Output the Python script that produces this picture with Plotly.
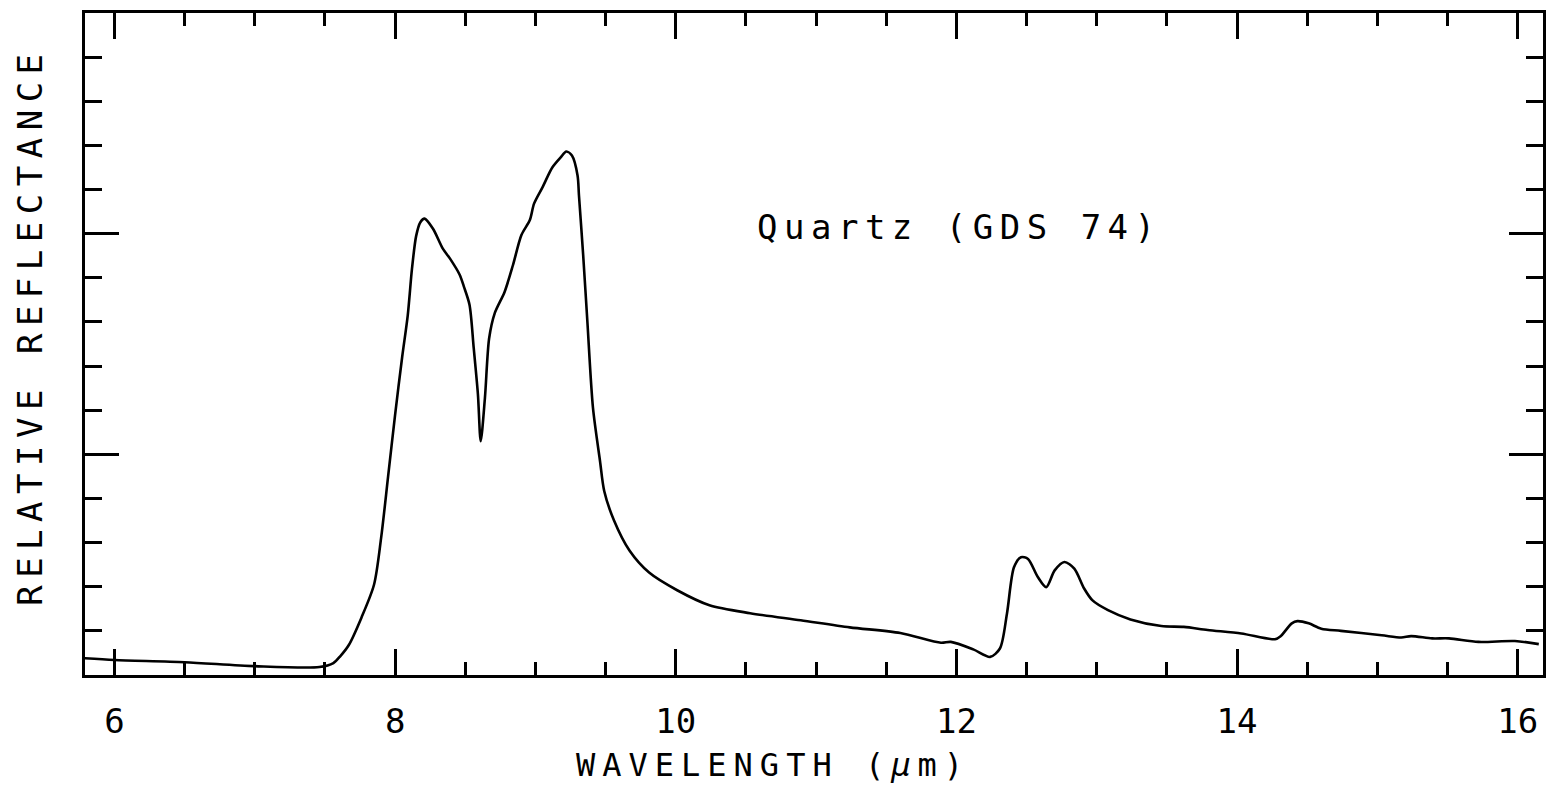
import plotly.graph_objects as go

# Wavelength (micrometres) and relative reflectance (arbitrary units, 0-15 axis)
wavelength = [5.78, 6.00, 6.50, 7.00, 7.46, 7.56, 7.61, 7.67, 7.76, 7.85,
              7.90, 7.95, 8.00, 8.05, 8.09, 8.12, 8.15, 8.18, 8.21, 8.27,
              8.34, 8.39, 8.46, 8.49, 8.53, 8.56, 8.59, 8.61, 8.64, 8.67,
              8.71, 8.78, 8.84, 8.90, 8.96, 8.99, 9.05, 9.12, 9.18, 9.22,
              9.26, 9.30, 9.31, 9.34, 9.37, 9.41, 9.46, 9.49, 9.56, 9.67,
              9.81, 10.01, 10.24, 10.53, 10.89, 11.24, 11.60, 11.89, 11.96, 12.12,
              12.24, 12.31, 12.36, 12.41, 12.46, 12.51, 12.58, 12.64, 12.70, 12.77,
              12.84, 12.91, 12.97, 13.08, 13.24, 13.46, 13.62, 13.79, 14.03, 14.27,
              14.31, 14.39, 14.43, 14.51, 14.60, 14.74, 15.03, 15.17, 15.24, 15.39,
              15.51, 15.72, 15.98, 16.15]
reflectance = [0.38, 0.34, 0.29, 0.20, 0.18, 0.27, 0.43, 0.68, 1.30, 2.05,
               3.10, 4.50, 5.90, 7.20, 8.15, 9.20, 9.95, 10.26, 10.34, 10.11,
               9.66, 9.44, 9.07, 8.80, 8.39, 7.41, 6.36, 5.30, 6.28, 7.63,
               8.20, 8.68, 9.29, 9.97, 10.31, 10.68, 11.05, 11.50, 11.73, 11.86,
               11.77, 11.32, 10.87, 9.52, 8.01, 6.05, 4.85, 4.17, 3.50, 2.82,
               2.32, 1.92, 1.58, 1.40, 1.24, 1.08, 0.95, 0.73, 0.75, 0.58,
               0.41, 0.60, 1.39, 2.44, 2.67, 2.63, 2.22, 1.99, 2.37, 2.56,
               2.41, 1.96, 1.69, 1.47, 1.26, 1.11, 1.09, 1.02, 0.94, 0.81,
               0.88, 1.17, 1.22, 1.17, 1.05, 1.00, 0.90, 0.85, 0.88, 0.83,
               0.83, 0.75, 0.77, 0.70]

x_tick_vals = [6, 8, 10, 12, 14, 16]
x_tick_text = ["6", "8", "10", "12", "14", "16"]

FONT = "DejaVu Sans Mono"
SIZE = 34
SP = "letter-spacing:6.5px"

fig = go.Figure()
fig.add_trace(go.Scatter(
    x=wavelength, y=reflectance, mode="lines",
    line=dict(color="black", width=2.6, shape="spline", smoothing=0.8),
    hoverinfo="skip", showlegend=False,
))

axis_common = dict(
    showline=True, linecolor="black", linewidth=3, mirror="ticks",
    showgrid=False, zeroline=False, ticks="inside", tickcolor="black",
    tickwidth=3,
)

# page has an 8px body margin, so the figure is sized to fit the window
fig.update_layout(
    width=1551, height=779,
    margin=dict(l=77, r=16, t=2, b=112),
    paper_bgcolor="white", plot_bgcolor="white",
    font=dict(family=FONT, color="black", size=SIZE),
    xaxis=dict(
        range=[5.79, 16.18], tickvals=x_tick_vals,
        ticktext=x_tick_text,
        ticklen=26, ticklabelstandoff=14,
        tickfont=dict(family=FONT, size=SIZE, color="black"),
        minor=dict(dtick=0.5, tick0=0, ticks="inside", ticklen=13,
                   tickwidth=3, tickcolor="black", showgrid=False),
        **axis_common,
    ),
    yaxis=dict(
        range=[0, 15], dtick=5, tick0=0, ticklen=34, showticklabels=False,
        minor=dict(dtick=1, tick0=0, ticks="inside", ticklen=17,
                   tickwidth=3, tickcolor="black", showgrid=False),
        **axis_common,
    ),
    annotations=[
        dict(text=f'<span style="letter-spacing:7px">WAVELENGTH (<i>μ</i>m)</span>',
             xref="paper", yref="paper", x=0.472, y=-0.136,
             xanchor="center", yanchor="middle", showarrow=False,
             font=dict(family=FONT, size=32, color="black")),
        dict(text='<span style="letter-spacing:7.5px">RELATIVE REFLECTANCE</span>',
             xref="paper", yref="paper", x=-0.0377, y=0.526, textangle=-90,
             xanchor="center", yanchor="middle", showarrow=False,
             font=dict(family=FONT, size=SIZE, color="black")),
        dict(text=f'<span style="{SP}">Quartz (GDS 74)</span>',
             xref="x", yref="y", x=12.02, y=10.15,
             xanchor="center", yanchor="middle", showarrow=False,
             font=dict(family=FONT, size=SIZE, color="black")),
    ],
)

fig.write_html("out.html")
